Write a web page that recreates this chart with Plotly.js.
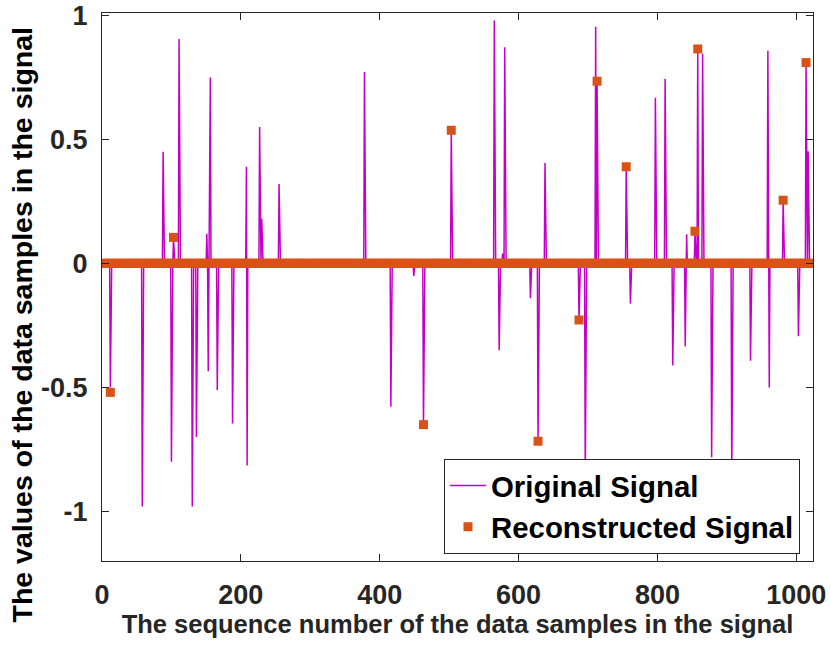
<!DOCTYPE html>
<html><head><meta charset="utf-8">
<script src="https://cdn.plot.ly/plotly-3.0.1.min.js"></script>
<style>html,body{margin:0;padding:0;background:#fff}#chart{width:831px;height:650px}</style>
</head><body><div id="chart"></div>
<script>
const sampleCount = 1024;
const originalIdx = [12,58,88,100,103,111,130,136,151,153,156,166,188,208,209,227,230,255,378,416,449,463,503,565,572,577,580,617,628,638,687,696,711,713,755,761,797,811,822,840,842,854,858,865,878,907,934,959,961,981,1003,1014,1017];
const originalVal = [-0.50,-0.98,0.45,-0.80,0.10,0.905,-0.98,-0.70,0.12,-0.435,0.75,-0.51,-0.645,0.39,-0.815,0.55,0.18,0.32,0.772,-0.578,-0.05,-0.65,0.535,0.98,-0.35,0.04,0.872,-0.14,-0.717,0.405,-0.228,-0.86,0.955,0.735,0.39,-0.162,0.668,0.745,-0.412,-0.335,0.118,0.13,0.865,0.846,-0.782,-0.86,-0.392,0.858,-0.50,0.255,-0.294,0.81,0.452];
const reconIdx = [12,103,463,503,628,687,713,755,854,858,981,1014];
const reconVal = [-0.52,0.105,-0.65,0.537,-0.717,-0.228,0.735,0.39,0.13,0.865,0.255,0.81];
const xTickVals = [0,200,400,600,800,1000];
const xTickText = ['0','200','400','600','800','1000'];
const yTickVals = [-1,-0.5,0,0.5,1];
const yTickText = ['-1','-0.5','0','0.5','1'];
const xTitle = 'The sequence number of the data samples in the signal';
const yTitle = 'The values of the data samples in the signal';

const n = [], orig = [], recon = [];
for (let i = 1; i <= sampleCount; i++) { n.push(i); orig.push(0); recon.push(0); }
originalIdx.forEach((k, j) => { orig[k - 1] = originalVal[j]; });
reconIdx.forEach((k, j) => { recon[k - 1] = reconVal[j]; });

const traces = [
  {x: n, y: orig, type: 'scatter', mode: 'lines', name: 'Original Signal',
   line: {color: '#c400c8', width: 1.5}},
  {x: n, y: recon, type: 'scatter', mode: 'markers', name: 'Reconstructed Signal',
   marker: {color: '#d95319', symbol: 'square', size: 9, line: {width: 0}}}
];
const axisCommon = {
  ticks: 'inside', ticklen: 7, tickcolor: '#262626', tickwidth: 1,
  showline: true, linecolor: '#262626', linewidth: 1, mirror: 'ticks',
  showgrid: false, zeroline: false,
  tickfont: {size: 27, weight: 'bold', color: '#262626'}
};
const layout = {
  width: 831, height: 650,
  margin: {l: 102, r: 18, t: 13, b: 89, pad: 0},
  paper_bgcolor: '#ffffff', plot_bgcolor: '#ffffff',
  font: {family: 'Liberation Sans, Arial, sans-serif', color: '#262626'},
  showlegend: true,
  xaxis: Object.assign({}, axisCommon, {
    range: [0, 1024], tickmode: 'array', tickvals: xTickVals, ticktext: xTickText,
    ticklabelstandoff: 10,
    title: {text: xTitle, font: {size: 25.5, weight: 'bold', color: '#262626'}, standoff: 2}
  }),
  yaxis: Object.assign({}, axisCommon, {
    range: [-1.2, 1.01], tickmode: 'array', tickvals: yTickVals, ticktext: yTickText,
    ticklabelstandoff: 8
  }),
  annotations: [{
    text: yTitle, textangle: -90, showarrow: false,
    xref: 'paper', yref: 'paper', x: -0.1125, y: 0.4316,
    xanchor: 'center', yanchor: 'middle',
    font: {size: 28.5, weight: 'bold', color: '#000000', family: 'Liberation Sans, Arial, sans-serif'}
  }],
  legend: {
    x: 0.9817, xanchor: 'right', y: 0.013, yanchor: 'bottom',
    bgcolor: '#ffffff', bordercolor: '#262626', borderwidth: 1,
    font: {size: 29.4, weight: 'bold', color: '#000000'},
    itemwidth: 36, tracegroupgap: 0
  }
};
Plotly.newPlot('chart', traces, layout, {displayModeBar: false, staticPlot: true});
</script>
</body></html>
